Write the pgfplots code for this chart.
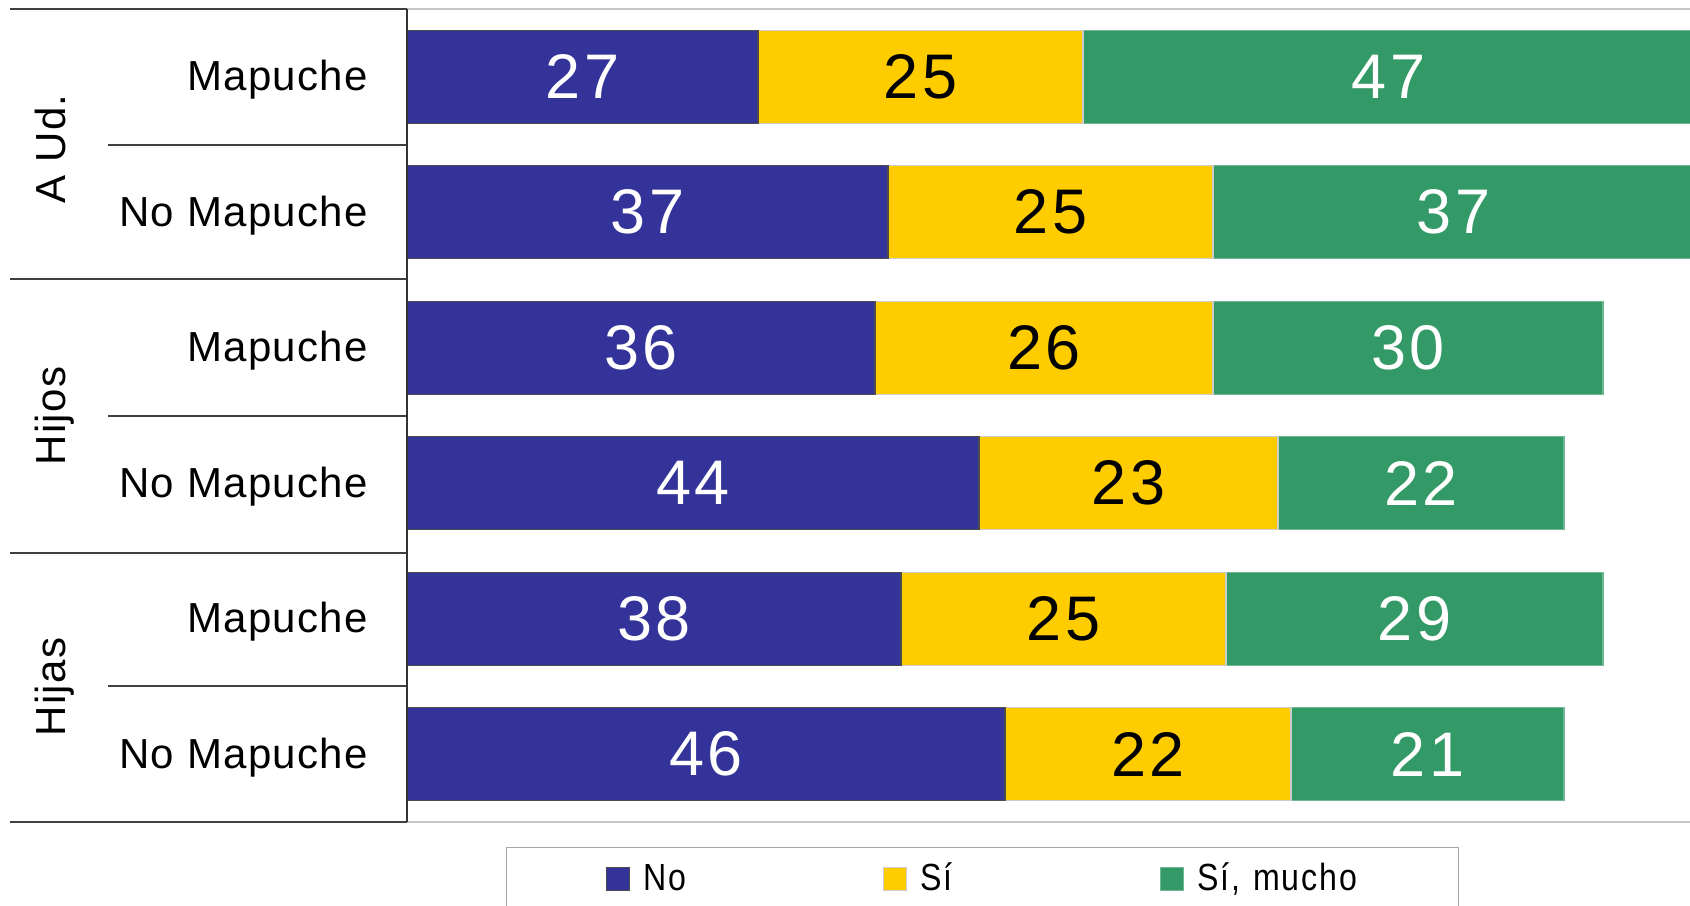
\documentclass[border=0pt]{standalone}
\usepackage{fontspec}
\setmainfont{Liberation Sans}[LetterSpace=3]
\newfontfamily\numfont{Liberation Sans}[LetterSpace=6]
\newfontfamily\legfont{Liberation Sans}[FakeStretch=0.85, LetterSpace=5]
\usepackage{pgfplots}
\pgfplotsset{compat=1.18}
\definecolor{cNo}{HTML}{333399}
\definecolor{cSi}{HTML}{FFCC00}
\definecolor{cMu}{HTML}{339966}
\begin{document}
\begin{tikzpicture}[x=1pt,y=1pt]
\useasboundingbox (0,0) rectangle (845,452.5);
\begin{axis}[
  at={(203.5pt,41.5pt)}, anchor=south west,
  scale only axis, width=643.5pt, height=406.5pt,
  xbar stacked, bar width=0.686,
  y dir=reverse,
  xmin=0, xmax=99, ymin=-0.5, ymax=5.5,
  axis line style={draw=none},
  tick style={draw=none},
  major tick length=0pt,
  xtick=\empty,
  ytick={0,...,5},
  yticklabels={Mapuche,No Mapuche,Mapuche,No Mapuche,Mapuche,No Mapuche},
  yticklabel style={anchor=east, inner sep=0pt, xshift=-19.5pt, yshift=-1.5pt, font=\fontsize{21}{21}\selectfont},
  /pgf/number format/assume math mode=true,
  visualization depends on={rawx \as \rawxval},
  nodes near coords={\pgfmathprintnumber{\rawxval}},
  every node near coord/.append style={anchor=center, inner sep=0pt, font=\numfont\fontsize{31.5}{31.5}\selectfont},
  legend columns=3,
  legend style={at={(0.07692,-0.03075)}, anchor=north west, draw=gray!70, line width=0.6pt, fill=white,
    inner xsep=49.5pt, inner ysep=7.5pt,
    font=\legfont\fontsize{18.9}{18.9}\selectfont,
    nodes={inner sep=0pt, text width=81pt, text height=14pt, text depth=4pt, align=left, anchor=west},
    /tikz/every odd column/.append style={column sep=7pt},
    /tikz/every even column/.append style={column sep=38.5pt}},
  legend image code/.code={\draw[#1, line width=0.5pt] (0pt,-5pt) rectangle (11.5pt,6.5pt);},
]
\addplot[fill=cNo, draw=black!70, line width=0.6pt, every node near coord/.append style={text=white}]
  coordinates {(27,0) (37,1) (36,2) (44,3) (38,4) (46,5)};
\addplot[fill=cSi, draw=gray!40, line width=0.6pt, every node near coord/.append style={text=black}]
  coordinates {(25,0) (25,1) (26,2) (23,3) (25,4) (22,5)};
\addplot[fill=cMu, draw=cMu!70!white, line width=0.6pt, every node near coord/.append style={text=white}]
  coordinates {(47,0) (37,1) (30,2) (22,3) (29,4) (21,5)};
\legend{No, Sí, {Sí, mucho}}
\end{axis}
% frame lines
\draw[black!75, line width=0.75pt] (5,448) -- (203.5,448);
\draw[gray!45, line width=0.75pt] (203.5,448) -- (845,448);
\draw[black!75, line width=0.75pt] (5,41.5) -- (203.5,41.5);
\draw[gray!45, line width=0.75pt] (203.5,41.5) -- (845,41.5);
\draw[black!75, line width=0.75pt] (5,313) -- (203.5,313);
\draw[black!75, line width=0.75pt] (5,176) -- (203.5,176);
\draw[black!75, line width=0.75pt] (54,380) -- (203.5,380);
\draw[black!75, line width=0.75pt] (54,244.5) -- (203.5,244.5);
\draw[black!75, line width=0.75pt] (54,109.5) -- (203.5,109.5);
\draw[black!80, line width=0.75pt] (203.5,41.5) -- (203.5,448);
% group labels
\node[rotate=90, anchor=base, font=\fontsize{21}{21}\selectfont] at (32.5,378) {A Ud.};
\node[rotate=90, anchor=base, font=\fontsize{21}{21}\selectfont] at (32.5,244.5) {Hijos};
\node[rotate=90, anchor=base, font=\fontsize{21}{21}\selectfont] at (32.5,109) {Hijas};
\end{tikzpicture}
\end{document}
